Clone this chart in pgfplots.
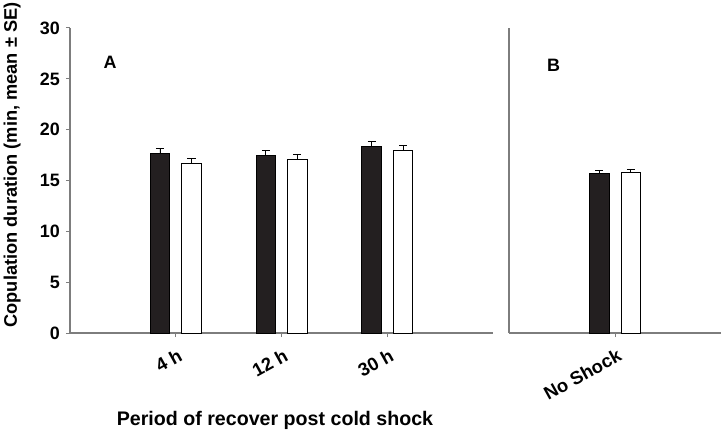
\documentclass[border=0pt]{standalone}
\usepackage{pgfplots}
\pgfplotsset{compat=1.18}
\usepackage{fontspec}
\setmainfont{Liberation Sans}
\definecolor{axisgray}{RGB}{125,125,125}
\definecolor{barblack}{RGB}{35,31,32}
\begin{document}
\begin{tikzpicture}
\pgfplotsset{
 panel/.style={
  scale only axis, height=305bp, ymin=0, ymax=30,
  axis x line*=bottom, axis y line*=left,
  axis line style={axisgray, line width=1.2bp},
  tick style={axisgray, line width=1bp},
  major tick length=4bp, tick align=outside,
  ybar=12bp, bar width=19.5bp,
  tick label style={font=\bfseries\fontsize{18}{20}\selectfont},
  /pgf/number format/assume math mode=true,
  xticklabel style={rotate=29, anchor=north east, inner sep=0pt, xshift=-4bp, yshift=-10bp, font=\bfseries\fontsize{18.5}{20}\selectfont},
  yticklabel style={inner sep=0pt, xshift=-6bp},
  clip=false,
 },
 blackbar/.style={draw=black, fill=barblack, line width=0.8bp,
   error bars/.cd, y dir=plus, y explicit,
   error bar style={black, line width=0.9bp},
   error mark options={rotate=90, mark size=4bp, black, line width=0.9bp}},
 whitebar/.style={draw=black, fill=white, line width=0.8bp,
   error bars/.cd, y dir=plus, y explicit,
   error bar style={black, line width=0.9bp},
   error mark options={rotate=90, mark size=4bp, black, line width=0.9bp}},
}
\begin{axis}[panel, width=423bp, xmin=0, xmax=4,
  xtick={1,2,3}, xticklabels={4 h,12 h,30 h},
  ytick={0,5,...,30},
  at={(0,0)}, anchor=south west]
\addplot[blackbar] coordinates {(1,17.63) +- (0,0.49) (2,17.44) +- (0,0.49) (3,18.32) +- (0,0.49)};
\addplot[whitebar] coordinates {(1,16.69) +- (0,0.49) (2,17.04) +- (0,0.49) (3,17.93) +- (0,0.49)};
\node[font=\bfseries\fontsize{18}{20}\selectfont] at (axis cs:0.38,26.6) {A};
\end{axis}
\begin{axis}[panel, width=212bp, xmin=0, xmax=2,
  xtick={1}, xticklabels={No Shock},
  ytick=\empty,
  at={(439bp,0)}, anchor=south west]
\addplot[blackbar] coordinates {(1,15.70) +- (0,0.26)};
\addplot[whitebar] coordinates {(1,15.80) +- (0,0.26)};
\node[font=\bfseries\fontsize{18}{20}\selectfont] at (axis cs:0.42,26.3) {B};
\end{axis}
\node[rotate=90, anchor=base, inner sep=0pt, font=\bfseries\fontsize{18.3}{20}\selectfont] at (-53bp,168bp) {Copulation duration (min, mean ± SE)};
\node[anchor=base, inner sep=0pt, font=\bfseries\fontsize{19.7}{21}\selectfont] at (205bp,-92.7bp) {Period of recover post cold shock};
\pgfresetboundingbox
\path[use as bounding box] (-70bp,-97bp) rectangle (651bp,333bp);
\end{tikzpicture}
\end{document}
